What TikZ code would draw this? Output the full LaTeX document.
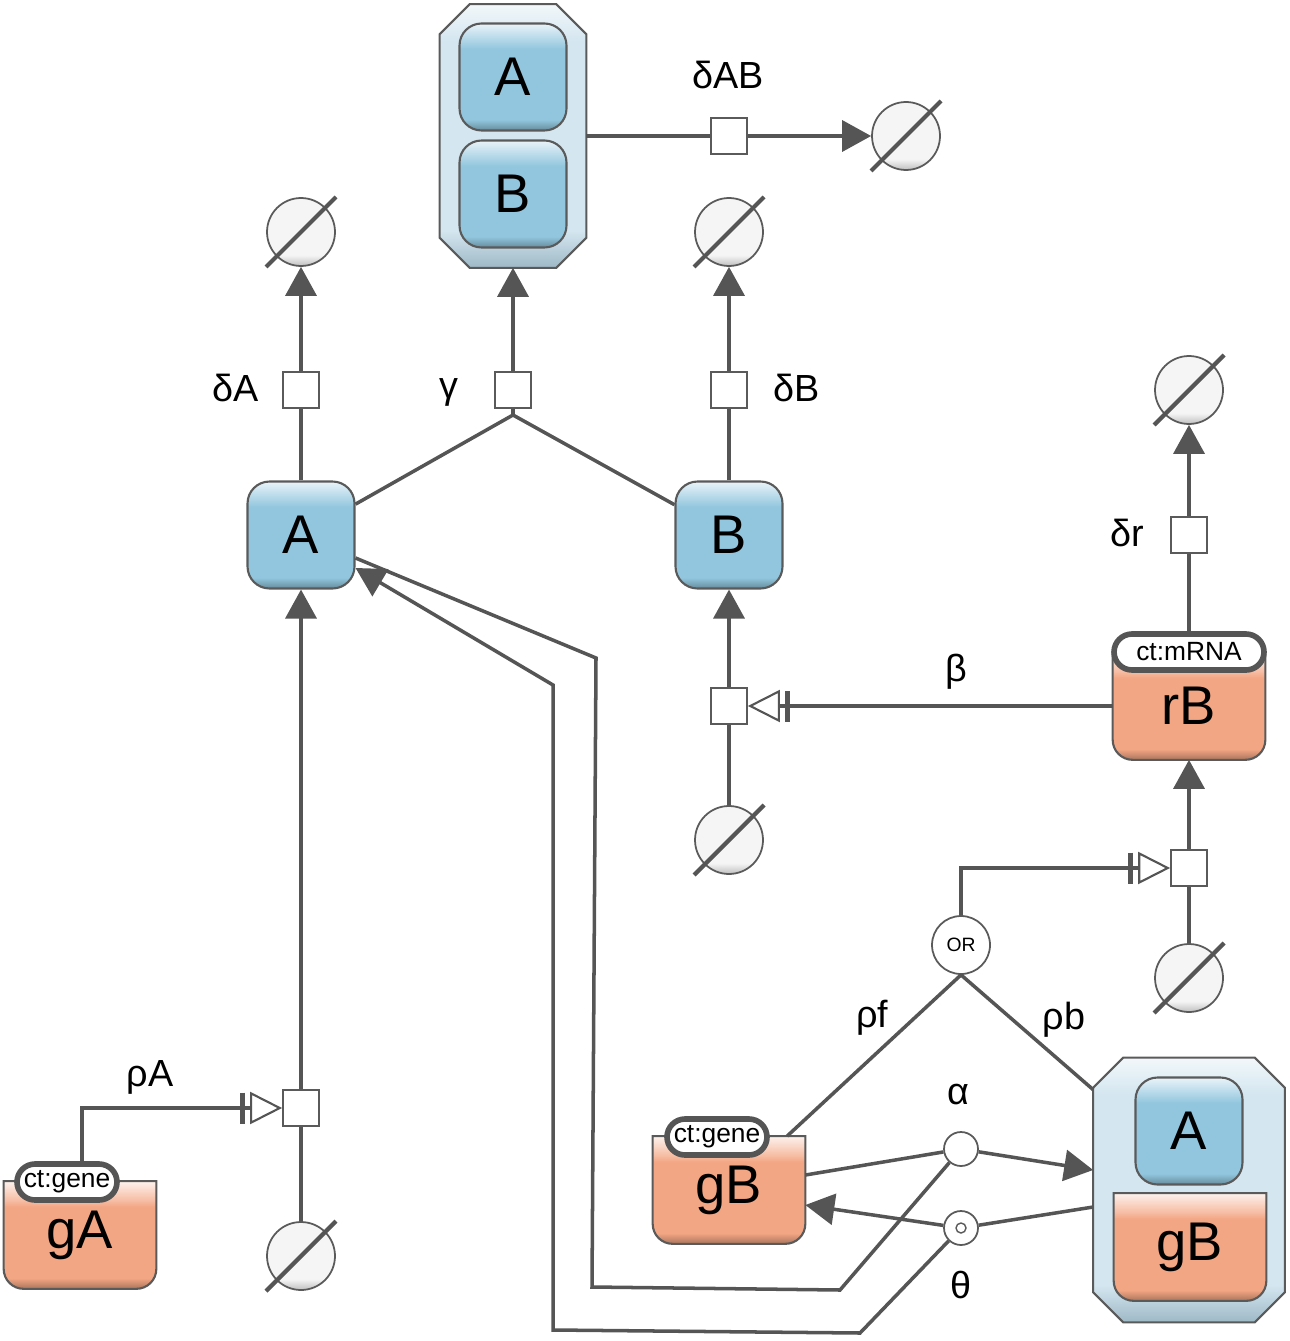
\documentclass[tikz,border=0pt]{standalone}
\usepackage{fontspec}
\setmainfont{Liberation Sans}
\usetikzlibrary{arrows.meta, calc, shapes.misc}
\definecolor{linegrey}{RGB}{85,85,85}
\definecolor{nodeline}{RGB}{90,90,90}
\definecolor{macroblue}{RGB}{145,198,222}
\definecolor{geneorange}{RGB}{243,166,131}
\definecolor{complexblue}{RGB}{212,230,240}
\definecolor{sinkgrey}{RGB}{245,245,245}

\pgfdeclareverticalshading{glossmacro}{100bp}{color(0bp)=(macroblue!70!black); color(25bp)=(macroblue!70!black); color(30bp)=(macroblue); color(63bp)=(macroblue); color(66bp)=(macroblue!80); color(75bp)=(macroblue!20); color(100bp)=(macroblue!20)}
\pgfdeclareverticalshading{glossgene}{100bp}{color(0bp)=(geneorange!70!black); color(25bp)=(geneorange!70!black); color(30bp)=(geneorange); color(63bp)=(geneorange); color(66bp)=(geneorange!75); color(75bp)=(geneorange!15); color(100bp)=(geneorange!15)}
\pgfdeclareverticalshading{glosscplx}{100bp}{color(0bp)=(complexblue!75!macroblue!80!black); color(25bp)=(complexblue!60!macroblue!85!black); color(32bp)=(complexblue); color(68bp)=(complexblue); color(75bp)=(complexblue!30); color(100bp)=(complexblue!30)}
\pgfdeclareverticalshading{glosssink}{100bp}{color(0bp)=(black!25); color(25bp)=(black!25); color(33bp)=(sinkgrey); color(75bp)=(sinkgrey); color(100bp)=(sinkgrey)}

\tikzset{
  conn/.style={draw=linegrey, line width=2pt},
  prod/.style={-{Triangle[length=0.58cm,width=0.62cm]}},
  necstim/.style={-{Bar[width=0.62cm,line width=3pt,sep=3pt]Triangle[open,length=0.64cm,width=0.64cm,line width=1.2pt,fill=white]}},
  macro/.style={draw=nodeline, line width=1.2pt, rounded corners=0.44cm, minimum size=2.14cm, inner sep=0pt, shade, shading=glossmacro, font=\fontsize{31}{36}\selectfont},
  genebase/.style={rectangle, minimum width=3.04cm, minimum height=2.14cm, inner sep=0pt},
  geneshape/.style={draw=nodeline, line width=1.2pt, shade, shading=glossgene},
  genetext/.style={font=\fontsize{31}{36}\selectfont},
  cplxbase/.style={rectangle, inner sep=0pt},
  cplxshape/.style={draw=nodeline, line width=1.2pt, shade, shading=glosscplx},
  unitinfo/.style={draw=linegrey, line width=3.2pt, fill=white, rounded corners=0.36cm, minimum height=0.72cm, inner xsep=2pt, inner ysep=0pt, font=\fontsize{15}{17}\selectfont},
  procbox/.style={draw=nodeline, fill=white, line width=1pt, minimum size=0.72cm, inner sep=0pt},
  sink/.style={circle, draw=nodeline, line width=1pt, minimum size=1.36cm, inner sep=0pt, shade, shading=glosssink},
  sinkbar/.style={draw=linegrey, line width=2.4pt},
  orgate/.style={circle, draw=nodeline, fill=white, line width=1pt, minimum size=1.16cm, inner sep=0pt, font=\fontsize{11}{13}\selectfont},
  assocnode/.style={circle, draw=nodeline, fill=white, line width=1pt, minimum size=0.68cm, inner sep=0pt},
  dissocnode/.style={assocnode, path picture={\draw[nodeline, line width=0.8pt] (path picture bounding box.center) circle (0.1cm);}},
  lbl/.style={font=\fontsize{21.5}{26}\selectfont}
}

% gene node with flat top and rounded bottom
\newcommand{\genebox}[3]{%
  \node[genebase] (#1) at (#2) {};
  \path[geneshape] (#1.north west) -- (#1.north east) [rounded corners=0.4cm] -- (#1.south east) -- (#1.south west) [sharp corners] -- (#1.north west) -- cycle;
  \node[genetext] at (#1) {#3};
}
% complex with cut corners
\newcommand{\complexbox}[4]{%
  \node[cplxbase, minimum width=#3, minimum height=#4] (#1) at (#2) {};
  \path[cplxshape] ([xshift=6mm]#1.north west) -- ([xshift=-6mm]#1.north east) -- ([yshift=-6mm]#1.north east) -- ([yshift=6mm]#1.south east) -- ([xshift=-6mm]#1.south east) -- ([xshift=6mm]#1.south west) -- ([yshift=6mm]#1.south west) -- ([yshift=-6mm]#1.north west) -- cycle;
}
% empty set
\newcommand{\sinknode}[2]{%
  \node[sink] (#1) at (#2) {};
  \draw[sinkbar] ([shift={(-35,35)}]#1.center) -- ([shift={(35,-35)}]#1.center);
}

\begin{document}
\begin{tikzpicture}[x=0.02cm, y=-0.02cm, font=\fontsize{21.5}{26}\selectfont]
\useasboundingbox (0,0) rectangle (1290,1341);

% complexes
\complexbox{cAB}{513,136}{2.92cm}{5.26cm}
\node[macro] (cA) at (513,77) {A};
\node[macro] (cB) at (513,194) {B};
\complexbox{cAgB}{1189,1190}{3.82cm}{5.28cm}
\node[macro] (cgA) at (1189,1131) {A};
\genebox{cgB}{1190,1247}{gB}

% species
\node[macro] (A) at (301,535) {A};
\node[macro] (B) at (729,535) {B};
\genebox{gA}{80,1235}{gA}
\genebox{gB}{729,1190}{gB}
\genebox{rB}{1189,706}{rB}
\node[unitinfo, minimum width=2cm] (ugA) at (67,1182) {ct:gene};
\node[unitinfo, minimum width=2cm] (ugB) at (717,1137) {ct:gene};
\node[unitinfo, minimum width=3cm] (urB) at (1189,652) {ct:mRNA};

% processes
\node[procbox] (pdAB) at (729,136) {};
\node[procbox] (pdA) at (301,390) {};
\node[procbox] (pg) at (513,390) {};
\node[procbox] (pdB) at (729,390) {};
\node[procbox] (pdr) at (1189,535) {};
\node[procbox] (ptB) at (729,706) {};
\node[procbox] (ptr) at (1189,868) {};
\node[procbox] (ptA) at (301,1108) {};
\coordinate (jg) at (513,415);

% sinks
\sinknode{sAB}{906,136}
\sinknode{sA}{301,232}
\sinknode{sB}{729,232}
\sinknode{sr}{1189,390}
\sinknode{stB}{729,840}
\sinknode{str}{1189,978}
\sinknode{stA}{301,1256}

% logic and binding
\node[orgate] (or) at (961,945) {OR};
\node[assocnode] (assoc) at (961,1149) {};
\node[dissocnode] (dissoc) at (961,1228) {};

% labels
\node[lbl] (ldAB) at (728,75) {δAB};
\node[lbl] (ldA) at (236,388) {δA};
\node[lbl] (lg) at (449,392) {γ};
\node[lbl] (ldB) at (797,388) {δB};
\node[lbl] (ldr) at (1127,533) {δr};
\node[lbl] (lb) at (956,672) {β};
\node[lbl] (lrA) at (150,1077) {ρA};
\node[lbl] (lrf) at (872,1018) {ρf};
\node[lbl] (lrb) at (1064,1020) {ρb};
\node[lbl] (la) at (958,1095) {α};
\node[lbl] (lt) at (961,1285) {θ};

% connectors
\draw[conn] (cAB) -- (pdAB);
\draw[conn,prod] (pdAB) -- (sAB);
\draw[conn] (A) -- (pdA);
\draw[conn,prod] (pdA) -- (sA);
\draw[conn] (A) -- (jg) -- (B);
\draw[conn] (jg) -- (pg);
\draw[conn,prod] (pg) -- (cAB);
\draw[conn] (B) -- (pdB);
\draw[conn,prod] (pdB) -- (sB);
\draw[conn] (urB) -- (pdr);
\draw[conn,prod] (pdr) -- (sr);
\draw[conn,prod] (ptB) -- (B);
\draw[conn] (stB) -- (ptB);
\draw[conn,necstim] (rB) -- (ptB);
\draw[conn,prod] (ptr) -- (rB);
\draw[conn] (str) -- (ptr);
\draw[conn,necstim] (or) |- (ptr);
\draw[conn] (or.south) -- (gB);
\draw[conn] (or.south) -- ([yshift=-0.64cm]cAgB.north west);
\draw[conn,necstim] ([xshift=0.3cm]ugA.north) |- (ptA);
\draw[conn,prod] (ptA) -- (A);
\draw[conn] (stA) -- (ptA);
\draw[conn] ([yshift=0.3cm]gB.east) -- (assoc);
\draw[conn,prod] (assoc) -- ([yshift=0.4cm]cAgB.west);
\draw[conn] ([yshift=-0.46cm]A.east) -- (596,658) -- (592,1287) -- (840,1290) -- (assoc);
\draw[conn] ([yshift=-0.34cm]cAgB.west) -- (dissoc);
\draw[conn,prod] (dissoc) -- ([yshift=-0.3cm]gB.east);
\draw[conn,prod] (dissoc) -- (860,1333) -- (553,1330) -- (553,685) -- ([yshift=-0.66cm]A.east);
\end{tikzpicture}
\end{document}
